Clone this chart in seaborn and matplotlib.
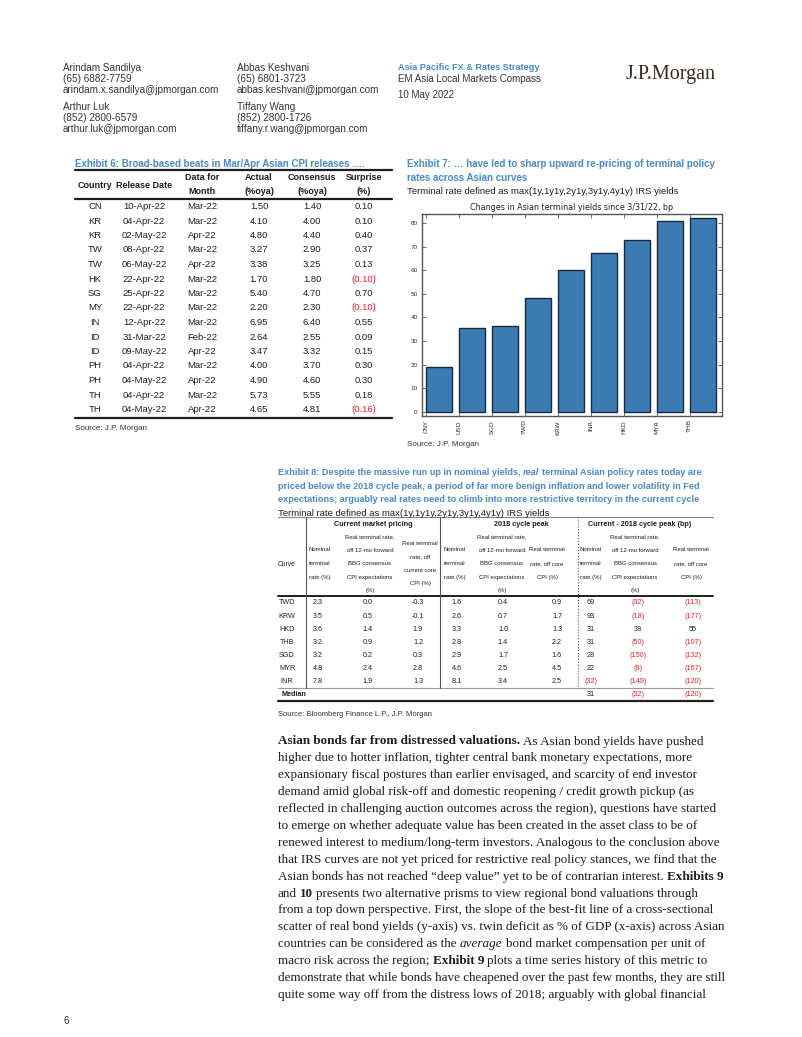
import re
import matplotlib
matplotlib.use("Agg")
import matplotlib.pyplot as plt
import seaborn as sns
import numpy as np
from matplotlib.lines import Line2D
from matplotlib import font_manager

sns.set_style("ticks")
installed = {f.name for f in font_manager.fontManager.ttflist}
SANS = ['Liberation Sans', 'DejaVu Sans']
SERIF = ['Liberation Serif', 'DejaVu Serif']
NARROW = ['Liberation Sans Narrow', 'DejaVu Sans'] if 'Liberation Sans Narrow' in installed else SANS
plt.rcParams['font.family'] = SANS

W, H = 802, 1037
BLUE = '#4a89c8'
RED = '#e3232b'
INK = '#1e1e1e'
BAR = '#3a7bb4'

# ---- Exhibit 7 data (bp change in terminal yields since 3/31/22)
currencies = ['CNY', 'USD', 'SGD', 'TWD', 'KRW', 'INR', 'HKD', 'MYR', 'THB']
changes_bp = [19.0, 35.4, 36.4, 48.3, 60.1, 67.4, 72.9, 81.0, 82.3]

# ---- Exhibit 6 data
cpi_country = ['CN', 'KR', 'KR', 'TW', 'TW', 'HK', 'SG', 'MY', 'IN', 'ID', 'ID', 'PH', 'PH', 'TH', 'TH']
cpi_release = ['10-Apr-22', '04-Apr-22', '02-May-22', '08-Apr-22', '06-May-22', '22-Apr-22', '25-Apr-22',
               '22-Apr-22', '12-Apr-22', '31-Mar-22', '09-May-22', '04-Apr-22', '04-May-22', '04-Apr-22', '04-May-22']
cpi_month = ['Mar-22', 'Mar-22', 'Apr-22', 'Mar-22', 'Apr-22', 'Mar-22', 'Mar-22', 'Mar-22', 'Mar-22',
             'Feb-22', 'Apr-22', 'Mar-22', 'Apr-22', 'Mar-22', 'Apr-22']
cpi_actual = [1.50, 4.10, 4.80, 3.27, 3.38, 1.70, 5.40, 2.20, 6.95, 2.64, 3.47, 4.00, 4.90, 5.73, 4.65]
cpi_consensus = [1.40, 4.00, 4.40, 2.90, 3.25, 1.80, 4.70, 2.30, 6.40, 2.55, 3.32, 3.70, 4.60, 5.55, 4.81]
cpi_surprise = [0.10, 0.10, 0.40, 0.37, 0.13, -0.10, 0.70, -0.10, 0.55, 0.09, 0.15, 0.30, 0.30, 0.18, -0.16]

# ---- Exhibit 8 data
curves = ['TWD', 'KRW', 'HKD', 'THB', 'SGD', 'MYR', 'INR']
nominal_now = [2.3, 3.5, 3.6, 3.2, 3.2, 4.8, 7.8]
real_fwd_now = [0.0, 0.5, 1.4, 0.9, 0.2, 2.4, 1.9]
real_core_now = [-0.3, -0.1, 1.9, 1.2, 0.3, 2.8, 1.3]
nominal_2018 = [1.6, 2.6, 3.3, 2.8, 2.9, 4.6, 8.1]
real_fwd_2018 = [0.4, 0.7, 1.0, 1.4, 1.7, 2.5, 3.4]
real_core_2018 = [0.9, 1.7, 1.3, 2.2, 1.6, 4.5, 2.5]
diff_nominal = [69, 93, 31, 31, 28, 22, -32]
diff_real_fwd = [-32, -18, 38, -50, -150, -9, -149]
diff_real_core = [-113, -177, 55, -107, -132, -167, -120]
median_diff = [31, -32, -120]

header_people = [
    ['Arindam Sandilya', '(65) 6882-7759', 'arindam.x.sandilya@jpmorgan.com'],
    ['Arthur Luk', '(852) 2800-6579', 'arthur.luk@jpmorgan.com'],
    ['Abbas Keshvani', '(65) 6801-3723', 'abbas.keshvani@jpmorgan.com'],
    ['Tiffany Wang', '(852) 2800-1726', 'tiffany.r.wang@jpmorgan.com'],
]

ex8_title = [
    "Exhibit 8: Despite the massive run up in nominal yields, _real_ terminal Asian policy rates today are",
    "priced below the 2018 cycle peak, a period of far more benign inflation and lower volatility in Fed",
    "expectations; arguably real rates need to climb into more restrictive territory in the current cycle",
]

body_lines = [
    "**Asian bonds far from distressed valuations.** As Asian bond yields have pushed",
    "higher due to hotter inflation, tighter central bank monetary expectations, more",
    "expansionary fiscal postures than earlier envisaged, and scarcity of end investor",
    "demand amid global risk-off and domestic reopening / credit growth pickup (as",
    "reflected in challenging auction outcomes across the region), questions have started",
    "to emerge on whether adequate value has been created in the asset class to be of",
    "renewed interest to medium/long-term investors. Analogous to the conclusion above",
    "that IRS curves are not yet priced for restrictive real policy stances, we find that the",
    "Asian bonds has not reached \u201cdeep value\u201d yet to be of contrarian interest. **Exhibits 9**",
    "and **10** presents two alternative prisms to view regional bond valuations through",
    "from a top down perspective. First, the slope of the best-fit line of a cross-sectional",
    "scatter of real bond yields (y-axis) vs. twin deficit as % of GDP (x-axis) across Asian",
    "countries can be considered as the _average_ bond market compensation per unit of",
    "macro risk across the region; **Exhibit 9** plots a time series history of this metric to",
    "demonstrate that while bonds have cheapened over the past few months, they are still",
    "quite some way off from the distress lows of 2018; arguably with global financial",
]

fig = plt.figure(figsize=(8.02, 10.37), dpi=100)
renderer = fig.canvas.get_renderer()


def put(x, y, s, size=7, color=INK, ha='left', va='center_baseline', **kw):
    return fig.text(x / W, 1 - y / H, s, fontsize=size, color=color, ha=ha, va=va, **kw)


def hline(x0, x1, y, lw=1.0, color=INK, ls='-'):
    fig.add_artist(Line2D([x0 / W, x1 / W], [1 - y / H] * 2, lw=lw, color=color, ls=ls))


def vline(x, y0, y1, lw=1.0, color=INK, ls='-'):
    fig.add_artist(Line2D([x / W] * 2, [1 - y0 / H, 1 - y1 / H], lw=lw, color=color, ls=ls))


def rich(x, y, line, size, family, color=INK, weight='normal'):
    # a line made of runs, **bold** and _italic_ runs drawn one after another
    for part in re.split(r'(\*\*.*?\*\*|_.*?_)', line):
        if not part:
            continue
        wt, st = weight, 'normal'
        if part.startswith('**'):
            part, wt = part[2:-2], 'bold'
        elif part.startswith('_'):
            part, st = part[1:-1], 'italic'
        kw = dict(size=size, family=family, weight=wt, style=st, va='baseline')
        # advance = width of |run| minus width of ||, so edge spaces count
        t = put(0, -80, '|' + part + '|', **kw)
        adv = t.get_window_extent(renderer).width
        t.set_text('||')
        adv -= t.get_window_extent(renderer).width
        t.remove()
        lead = len(part) - len(part.lstrip(' '))
        off = 0
        if lead:
            t = put(0, -80, '|' + part[:lead] + '|', **kw)
            off = t.get_window_extent(renderer).width
            t.set_text('||')
            off -= t.get_window_extent(renderer).width
            t.remove()
        put(x + off, y, part.strip(' '), color=color, **kw)
        x += adv


def paren(v, fmt):
    return ('(' + fmt.format(-v) + ')', RED) if v < 0 else (fmt.format(v), INK)


# ---------------- page header
for col, x in [(0, 63), (2, 237)]:
    for block, y0 in [(header_people[col], 67), (header_people[col + 1], 106)]:
        for i, s in enumerate(block):
            put(x, y0 + i * 11, s, size=7.2, color='#333333')
put(398, 67, 'Asia Pacific FX & Rates Strategy', size=6.6, color=BLUE, weight='bold', family=NARROW)
put(398, 78, 'EM Asia Local Markets Compass', size=7.0, color='#333333')
put(398, 94, '10 May 2022', size=7.0, color='#333333')
put(626, 72, 'J.P.Morgan', size=14.5, color='#3b2a20', family=SERIF)

# ---------------- Exhibit 6 table
put(75, 163, 'Exhibit 6: Broad-based beats in Mar/Apr Asian CPI releases \u2026.', size=7.0,
    color=BLUE, weight='bold', family=NARROW)
hline(75, 392, 170, lw=1.6)
hline(75, 392, 199, lw=1.6)
cols6 = [95, 144, 202, 259, 312, 364]
put(cols6[0], 184, 'Country', size=6.5, weight='bold', ha='center')
put(cols6[1], 184, 'Release Date', size=6.5, weight='bold', ha='center')
for cx, (a, b) in zip(cols6[2:], [('Data for', 'Month'), ('Actual', '(%oya)'),
                                 ('Consensus', '(%oya)'), ('Surprise', '(%)')]):
    put(cx, 177, a, size=6.5, weight='bold', ha='center')
    put(cx, 191, b, size=6.5, weight='bold', ha='center')
for i in range(len(cpi_country)):
    y = 205.5 + i * 14.5
    s_txt, s_col = paren(cpi_surprise[i], '{:.2f}')
    cells = [(cpi_country[i], INK), (cpi_release[i], INK), (cpi_month[i], INK),
             ('{:.2f}'.format(cpi_actual[i]), INK), ('{:.2f}'.format(cpi_consensus[i]), INK), (s_txt, s_col)]
    for cx, (s, c) in zip(cols6, cells):
        put(cx, y, s, size=6.8, color=c, ha='center')
hline(75, 392, 418, lw=1.6)
put(75, 428, 'Source: J.P. Morgan', size=5.8, color='#333333')

# ---------------- Exhibit 7 chart
put(407, 163, 'Exhibit 7: \u2026 have led to sharp upward re-pricing of terminal policy', size=7.0,
    color=BLUE, weight='bold', family=NARROW)
put(407, 177, 'rates across Asian curves', size=7.0, color=BLUE, weight='bold', family=NARROW)
put(407, 191, 'Terminal rate defined as max(1y,1y1y,2y1y,3y1y,4y1y) IRS yields', size=6.8, color=INK,
    family=NARROW)

ax = fig.add_axes([422 / W, 1 - 416 / H, 300 / W, 202 / H])
sns.barplot(x=currencies, y=changes_bp, color=BAR, saturation=1, width=0.8,
            edgecolor='#1c2b3c', linewidth=1.0, ax=ax)
ax.set_xticks(np.arange(len(currencies)) - 0.4)
ax.set_xticklabels(currencies, rotation=90, family='DejaVu Sans', fontsize=4.6, color='#333333')
ax.set_yticks(range(0, 81, 10))
ax.tick_params(axis='y', labelsize=4.6, labelcolor='#333333')
ax.tick_params(direction='in', top=True, right=True, length=3, width=0.6, color='#555555', pad=3)
ax.set_xlim(-0.52, 8.57)
ax.set_ylim(-1.7, 83.8)
ax.set_xlabel('')
ax.set_ylabel('')
for s in ax.spines.values():
    s.set_color('#555555')
    s.set_linewidth(1.0)
ax.set_title('Changes in Asian terminal yields since 3/31/22, bp', family='DejaVu Sans',
             fontsize=5.8, color='#222222', pad=3)
put(407, 444, 'Source: J.P. Morgan', size=5.8, color='#333333')

# ---------------- Exhibit 8 table
for i, ln in enumerate(ex8_title):
    rich(278, 475 + i * 13.6, ln, 6.55, NARROW, color=BLUE, weight='bold')
put(278, 512, 'Terminal rate defined as max(1y,1y1y,2y1y,3y1y,4y1y) IRS yields', size=6.8, color=INK,
    family=NARROW)

hline(278, 713, 517, lw=0.8, color='#888888')
cols8 = [287, 318, 368, 418, 457, 503, 557, 591, 638, 693]
hdr8 = [287, 320, 370, 420, 455, 502, 547, 591, 635, 691]
for cx, s in [(373, 'Current market pricing'), (521, '2018 cycle peak'),
              (640, 'Current - 2018 cycle peak (bp)')]:
    put(cx, 524, s, size=5.2, weight='bold', ha='center', family=NARROW)
nom_hdr = ['Nominal', 'terminal', 'rate (%)']
fwd_hdr = ['Real terminal rate,', 'off 12-mo forward', 'BBG consensus', 'CPI expectations', '(%)']
core_hdr = ['Real terminal', 'rate, off core', 'CPI (%)']
curr_core_hdr = ['Real terminal', 'rate, off', 'current core', 'CPI (%)']
put(hdr8[0], 563, 'Curve', size=4.8, ha='center', family=NARROW)
for cx, lines, y0, dy in [(hdr8[1], nom_hdr, 549, 14), (hdr8[2], fwd_hdr, 536, 13.5),
                          (hdr8[3], curr_core_hdr, 543, 13.5), (hdr8[4], nom_hdr, 549, 14),
                          (hdr8[5], fwd_hdr, 536, 13.5), (hdr8[6], core_hdr, 549, 14),
                          (hdr8[7], nom_hdr, 549, 14), (hdr8[8], fwd_hdr, 536, 13.5),
                          (hdr8[9], core_hdr, 549, 14)]:
    for i, s in enumerate(lines):
        put(cx, y0 + i * dy, s, size=4.3, ha='center', family=NARROW)
hline(278, 713, 596, lw=1.4)
for i, cur in enumerate(curves):
    y = 602 + i * 13.1
    cells = [(cur, INK)]
    for series in [nominal_now, real_fwd_now, real_core_now, nominal_2018, real_fwd_2018, real_core_2018]:
        cells.append(('{:.1f}'.format(series[i]), INK))
    for series in [diff_nominal, diff_real_fwd, diff_real_core]:
        cells.append(paren(series[i], '{:d}'))
    for cx, (s, c) in zip(cols8, cells):
        put(cx, y, s, size=5.2, color=c, ha='center', family=NARROW)
hline(278, 713, 688, lw=0.8, color='#999999')
put(281, 694, 'Median', size=5.2, weight='bold', family=NARROW)
for cx, v in zip(cols8[7:], median_diff):
    s, c = paren(v, '{:d}')
    put(cx, 694, s, size=5.2, color=c, ha='center', family=NARROW)
hline(278, 713, 701, lw=1.6)
vline(306, 517, 688, lw=0.8, color='#555555')
vline(440, 517, 688, lw=0.8, color='#555555')
vline(578, 517, 688, lw=0.8, color='#555555', ls=':')
put(278, 714, 'Source: Bloomberg Finance L.P., J.P. Morgan', size=5.5, color='#333333', family=NARROW)

# ---------------- body text
for i, ln in enumerate(body_lines):
    rich(278, 744.5 + i * 16.9, ln, 9.45, SERIF)

put(63, 1020, '6', size=7, color='#333333')

fig.savefig('out.png', dpi=100)
